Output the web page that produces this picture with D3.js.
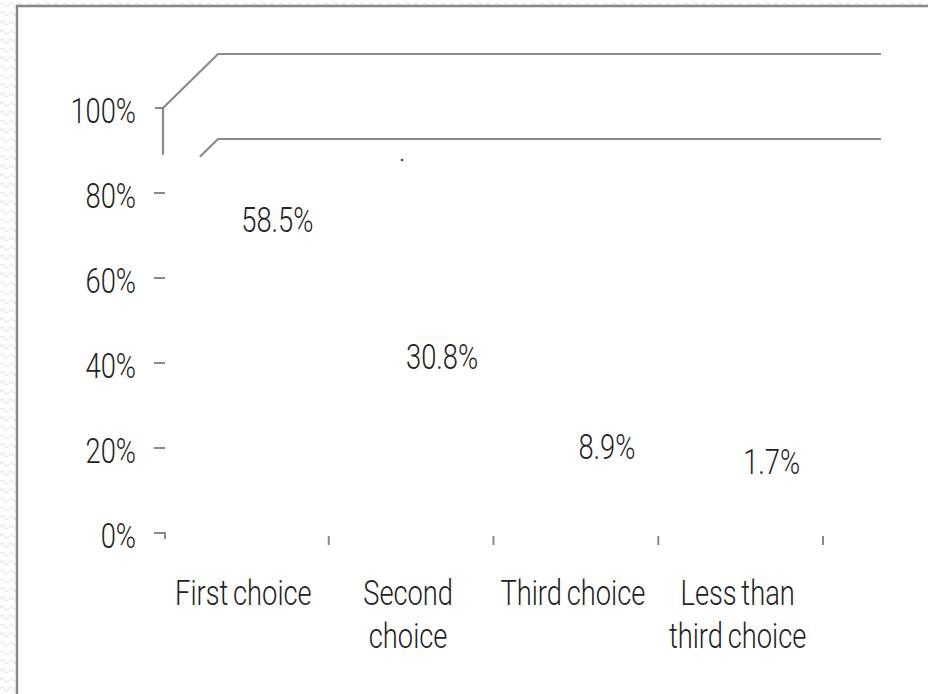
<!DOCTYPE html>
<html><head><meta charset="utf-8">
<script src="https://cdn.jsdelivr.net/npm/d3@7"></script>
<style>html,body{margin:0;padding:0;background:#fff;}svg{display:block;}</style>
</head><body>
<svg id="c" width="928" height="694"></svg>
<script>
const categories = [["First choice"], ["Second", "choice"], ["Third choice"], ["Less than", "third choice"]];
const values = [58.5, 30.8, 8.9, 1.7];
const valueLabels = ["58.5%", "30.8%", "8.9%", "1.7%"];
const yTicks = [0, 20, 40, 60, 80, 100];
const gridValues = [80, 100];

const svg = d3.select("#c");
const W = 928, H = 694;
const font = "Roboto, 'Liberation Sans', sans-serif";
const FS = 35, SX = 0.78;

// wavy backdrop
const defs = svg.append("defs");
const pat = defs.append("pattern").attr("id","wave").attr("width",9).attr("height",9).attr("patternUnits","userSpaceOnUse");
pat.append("path").attr("d","M0,5 Q2.25,1 4.5,5 T9,5").attr("fill","none").attr("stroke","#e4e4e4").attr("stroke-width",1.2);
defs.append("filter").attr("id","soft").append("feGaussianBlur").attr("stdDeviation",0.6);
svg.append("rect").attr("width",W).attr("height",H).attr("fill","url(#wave)");
svg.append("rect").attr("x",17).attr("y",6).attr("width",W+10).attr("height",H+10).attr("fill","#fff")
  .attr("stroke","#888").attr("stroke-width",2.5);

const x0 = 164, x1 = 823;
const x = d3.scaleBand().domain(d3.range(categories.length)).range([x0, x1]).paddingInner(0).paddingOuter(0);
const y = d3.scaleLinear().domain([0, 100]).range([533, 108]);
const dx = 55, dy = -54;
const gridRight = 881;

// invisible (white) bars
svg.append("g").selectAll("rect").data(values).join("rect")
  .attr("x",(d,i)=>x(i)+x.bandwidth()*0.2).attr("width",x.bandwidth()*0.6)
  .attr("y",d=>y(d)).attr("height",d=>y(0)-y(d)).attr("fill","#fff");

// back-wall gridlines
const g = svg.append("g").attr("fill","none").attr("stroke","#8a8a8a").attr("stroke-width",2.2).attr("filter","url(#soft)");
gridValues.forEach(v=>{
  const t = v === 100 ? 0 : 0.67;
  const sx = x0 - 1 + dx*t, sy = y(v) + dy*t;
  g.append("path").attr("d",`M${sx},${sy}L${x0-1+dx},${y(v)+dy}L${gridRight},${y(v)+dy}`);
});
// vertical axis stub
g.append("path").attr("d",`M${x0-1},${y(100)}L${x0-1},${y(89)}`);

// y ticks
const ta = svg.append("g").attr("stroke","#8a8a8a").attr("stroke-width",2).attr("fill","none");
yTicks.forEach(v=>{
  if (v === 0) ta.append("path").attr("d",`M154,${y(0)}L165,${y(0)}L165,${y(0)+6}`);
  else if (v === 100) ta.append("path").attr("d",`M155,${y(v)}L163,${y(v)}`);
  else ta.append("path").attr("d",`M154,${y(v)}L165,${y(v)}`);
});
// x ticks
x.domain().forEach(i=>{
  const xx = x(i)+x.bandwidth();
  ta.append("path").attr("d",`M${xx},${y(0)+3}L${xx},${y(0)+12}`);
});
svg.append("circle").attr("cx",402).attr("cy",160).attr("r",1.3).attr("fill","#444");

function styleText(sel){
  return sel.attr("font-family",font).attr("font-weight",300).attr("font-size",FS).attr("fill","#222");
}

// y tick labels
styleText(svg.append("g").selectAll("text").data(yTicks).join("text")
  .attr("transform",d=>`translate(136,${y(d)+15}) scale(${SX},1)`).attr("text-anchor","end"))
  .text(d=>d+"%");

// value labels
const labelOffsets = [52, 33, 36, 52];
styleText(svg.append("g").selectAll("text").data(values).join("text")
  .attr("transform",(d,i)=>`translate(${x(i)+x.bandwidth()/2+31},${y(d)-labelOffsets[i]}) scale(${SX},1)`)
  .attr("text-anchor","middle"))
  .text((d,i)=>valueLabels[i]);

// category labels
const cl = svg.append("g");
categories.forEach((lines,i)=>{
  const t = styleText(cl.append("text").attr("text-anchor","middle").attr("word-spacing",-2.5)
    .attr("transform",`translate(${x(i)+x.bandwidth()/2-3},605) scale(${SX},1)`));
  lines.forEach((ln,j)=>t.append("tspan").attr("x",0).attr("y",j*43).text(ln));
});
</script>
</body></html>
